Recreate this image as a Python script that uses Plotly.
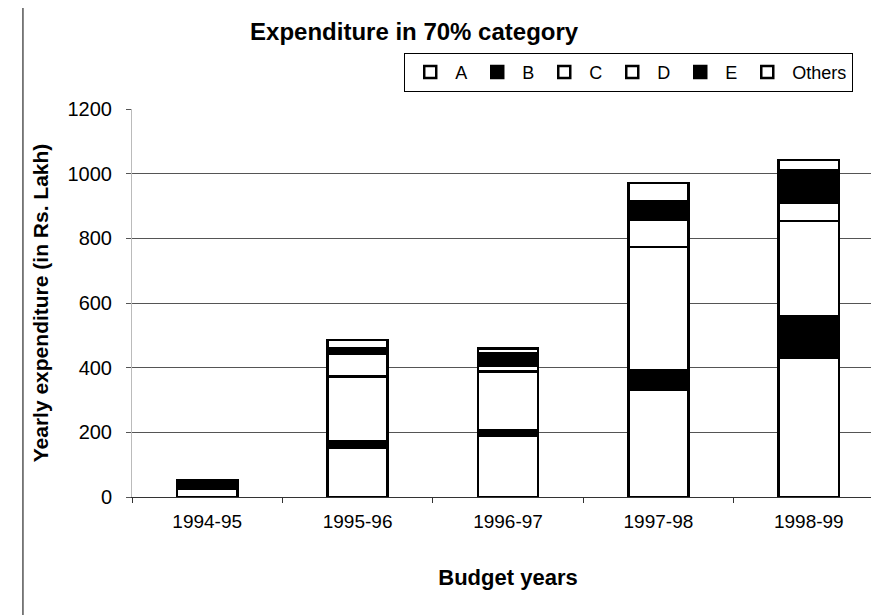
import plotly.graph_objects as go

years = ["1994-95", "1995-96", "1996-97", "1997-98", "1998-99"]
A = [25, 152, 188, 331, 430]
B = [5, 20, 19, 62, 130]
C = [8, 200, 181, 380, 294]
D = [4, 70, 19, 83, 56]
E = [5, 18, 37, 59, 102]
others = [6, 25, 15, 56, 31]

series = [("A", A, "white"), ("B", B, "black"), ("C", C, "white"),
          ("D", D, "white"), ("E", E, "black"), ("Others", others, "white")]

FONT = "Arial, Liberation Sans, sans-serif"

fig = go.Figure()
for name, vals, fill in series:
    fig.add_trace(go.Bar(
        x=years, y=vals, name=name,
        marker=dict(color=fill, line=dict(color="black", width=2.5)),
        width=0.4,
    ))

fig.update_layout(
    barmode="stack",
    width=879, height=615,
    margin=dict(l=124, r=3, t=101, b=126),
    paper_bgcolor="white", plot_bgcolor="white",
    font=dict(family=FONT, size=19, color="black"),
    title=dict(text="<b>Expenditure in 70% category</b>", x=0.462, xref="container",
               xanchor="center", y=0.962, yref="container", yanchor="middle",
               font=dict(size=24)),
    legend=dict(orientation="h", x=0.362, y=1.145, xanchor="left", yanchor="top",
                bordercolor="black", borderwidth=1, bgcolor="white",
                font=dict(size=18), traceorder="normal", itemwidth=40,
                valign="middle"),
    showlegend=True,
    shapes=[dict(type="line", xref="paper", yref="paper", x0=-0.145, x1=-0.145,
                 y0=-0.33, y1=1.27, line=dict(color="black", width=1))],
)
fig.update_xaxes(
    title=dict(text="<b>Budget years</b>", font=dict(size=22), standoff=38),
    showline=True, linecolor="#333", linewidth=1,
    ticks="outside", tickson="boundaries", ticklen=5, tickcolor="#333",
    tickfont=dict(size=19), ticklabelstandoff=7,
)
fig.update_yaxes(
    title=dict(text="<b>Yearly expenditure (in Rs. Lakh)</b>", font=dict(size=21), standoff=13),
    range=[0, 1200], dtick=200,
    showgrid=True, gridcolor="#555", gridwidth=1,
    showline=True, linecolor="#bbb", linewidth=1,
    ticks="outside", ticklen=5, tickcolor="#555",
    tickfont=dict(size=20), zeroline=False, ticklabelstandoff=10,
)

fig.write_html("out.html")
